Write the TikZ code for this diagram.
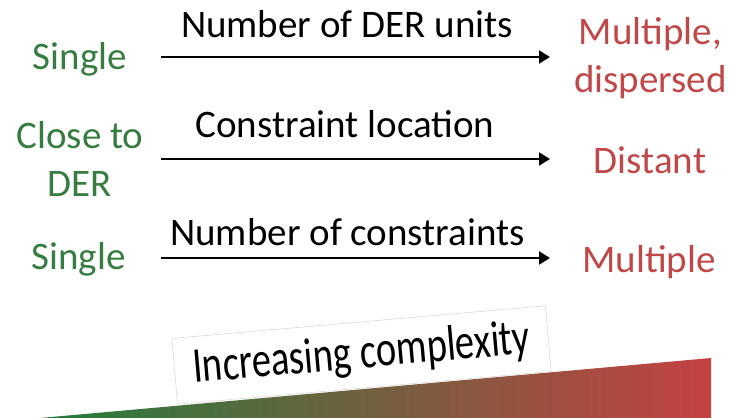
\documentclass[tikz,border=0pt]{standalone}
\usepackage{fontspec}
\setmainfont{Carlito}
\usepackage{graphicx}
\usetikzlibrary{arrows.meta}
\definecolor{tgreen}{RGB}{55,125,65}
\definecolor{tred}{RGB}{192,72,72}
\definecolor{wgreen}{RGB}{35,125,60}
\definecolor{wred}{RGB}{196,66,66}
\begin{document}
\begin{tikzpicture}[x=1pt,y=-1pt,
  big/.style={font=\fontsize{39}{48}\selectfont, inner sep=0pt, anchor=base},
  good/.style={big,text=tgreen},
  bad/.style={big,text=tred},
  lbl/.style={big,text=black},
  arr/.style={line width=2pt,-{Triangle[length=11pt,width=13pt]}}]
\useasboundingbox (0,0) rectangle (729,418);
% gradient wedge
\shade[left color=wgreen, right color=wred] (40,418) -- (711,358) -- (711,418) -- cycle;
% rotated label box
\node (box) [draw=gray!30, line width=0.6pt, fill=white, rotate=5,
  minimum width=375pt, minimum height=66pt, inner sep=0pt] at (361.5,355)
  {\scalebox{1}[1.3]{\fontsize{38.5}{46}\selectfont Increasing complexity}};
% arrows
\coordinate (a1s) at (161,57);  \coordinate (a1e) at (550,57);
\coordinate (a2s) at (161,159); \coordinate (a2e) at (550,159);
\coordinate (a3s) at (161,258); \coordinate (a3e) at (550,258);
\draw[arr] (a1s) -- (a1e);
\draw[arr] (a2s) -- (a2e);
\draw[arr] (a3s) -- (a3e);
% labels
\node[lbl] (l1) at (347,37) {Number of DER units};
\node[lbl] (l2) at (345,137) {Constraint location};
\node[lbl] (l3) at (347.5,245) {Number of constraints};
\node[good] (s1) at (80,69) {Single};
\node[good, align=center] (c2) at (80,196) {Close to\\DER};
\node[good] (s3) at (78.5,269) {Single};
\node[bad, align=center] (m1) at (650.5,92) {Multiple,\\dispersed};
\node[bad] (d2) at (650,173) {Distant};
\node[bad] (m3) at (649,272) {Multiple};
\end{tikzpicture}
\end{document}
